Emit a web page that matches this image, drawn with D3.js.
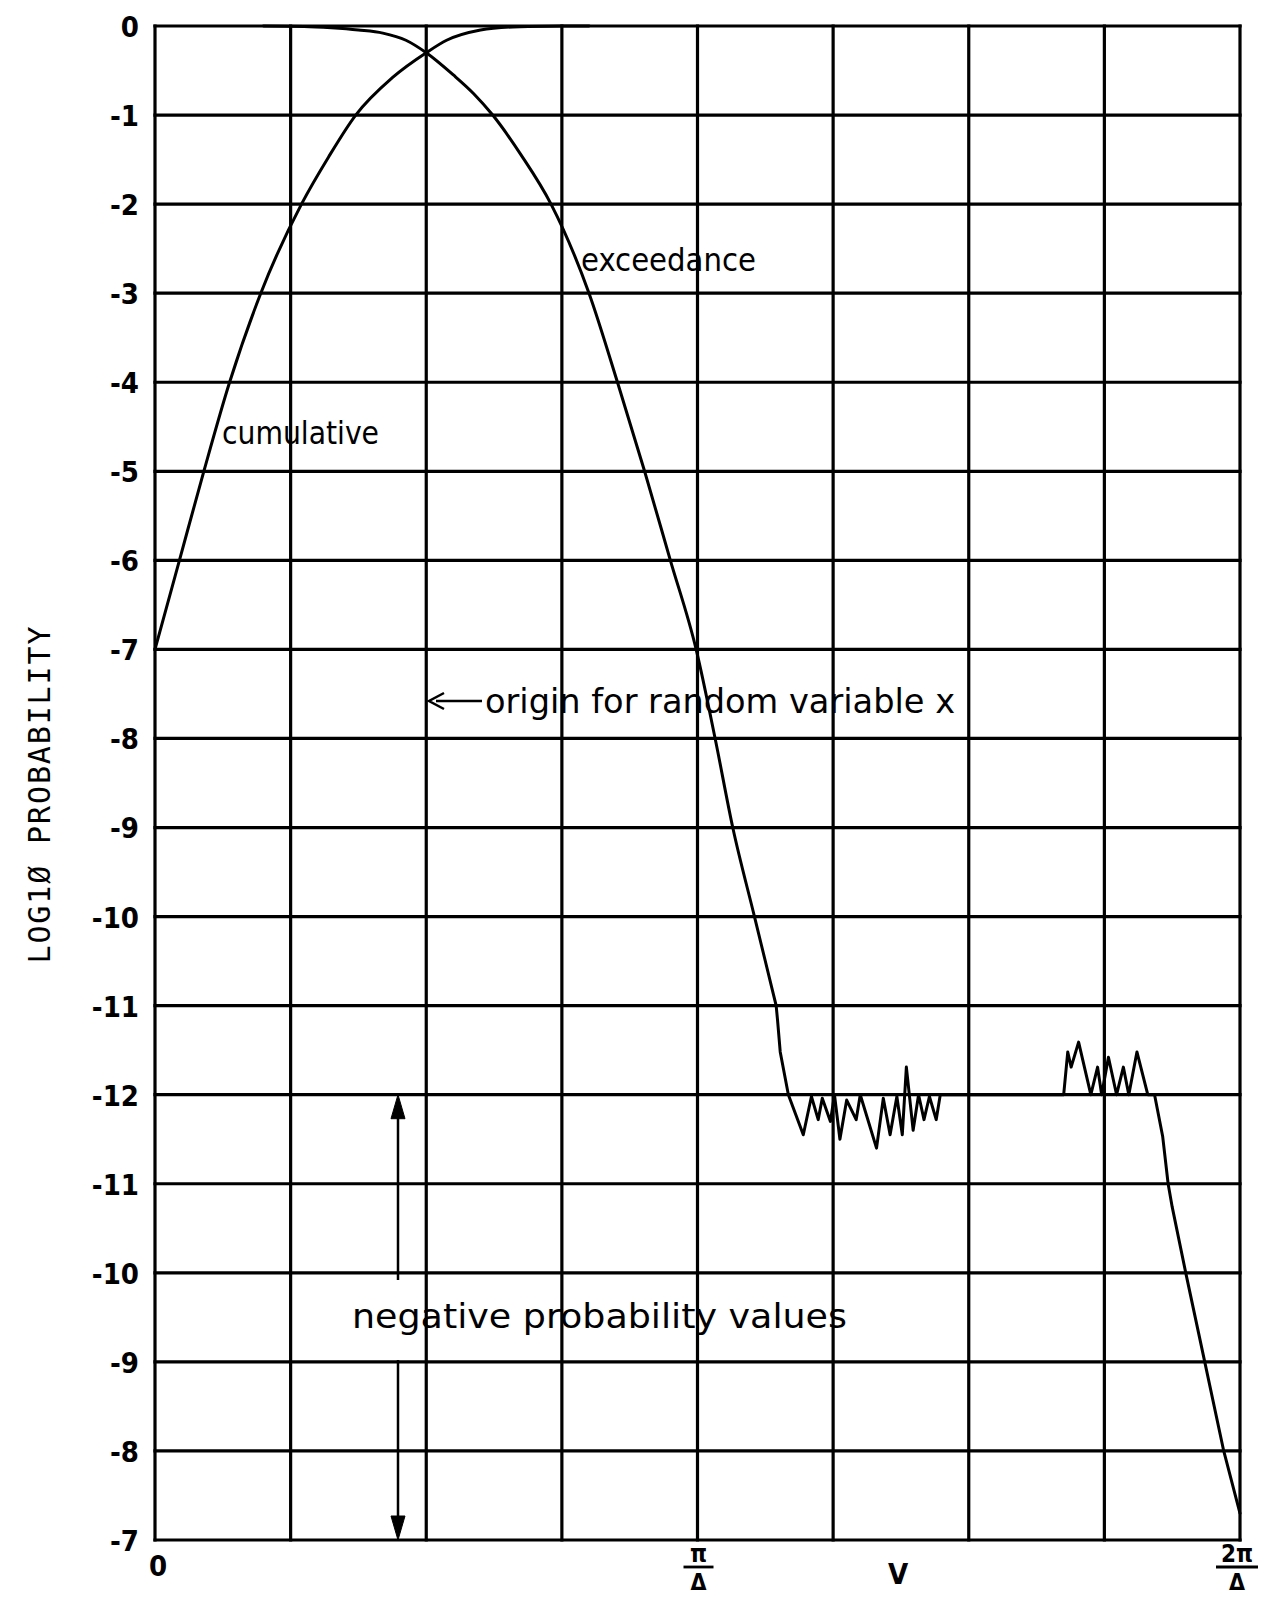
<!DOCTYPE html>
<html>
<head>
<meta charset="utf-8">
<script src="https://cdn.jsdelivr.net/npm/d3@7"></script>
<style>
  body { margin: 0; background: #fff; }
  svg { display: block; }
</style>
</head>
<body>
<svg id="chart" width="1266" height="1597"></svg>
<script>
// Horizontal unit: one grid column = π/(4Δ), so π/Δ sits at 4 and 2π/Δ at 8.
// Vertical axis is a folded log10 scale: log10 P runs 0 → -12 for positive
// probabilities, then log10|P| runs -12 → -7 back down for negative values.
const xTicks = [0, 4, 8];
const yTickLabels = ["0", "-1", "-2", "-3", "-4", "-5", "-6", "-7", "-8", "-9",
                     "-10", "-11", "-12", "-11", "-10", "-9", "-8", "-7"];

// cumulative distribution, log10 P
const cumulativeX   = [0, 0.18, 0.36, 0.55, 0.78, 1.08, 1.28, 1.48, 1.75, 2.0, 2.15, 2.4, 2.64, 2.9, 3.2];
const cumulativeLog = [-7, -6, -5, -4, -3, -2, -1.47, -1.0, -0.58, -0.3, -0.16, -0.045, -0.01, -0.002, 0];

// exceedance, smooth part, log10 P
const exceedanceX   = [0.8, 1.1, 1.3, 1.5, 1.68, 1.85, 2.0, 2.2, 2.35, 2.49, 2.7, 2.92, 3.20, 3.41, 3.61, 3.80, 3.99, 4.13, 4.26, 4.42, 4.58];
const exceedanceLog = [0, -0.005, -0.02, -0.045, -0.08, -0.16, -0.3, -0.55, -0.76, -1.0, -1.45, -2, -3, -4, -5, -6, -7, -8, -9, -10, -11];

// exceedance, round-off region: log10|P| together with the sign of P
const noiseX    = [4.58, 4.59, 4.61, 4.67, 4.78, 4.84, 4.89, 4.92, 4.98, 5.01, 5.05, 5.10, 5.17, 5.20, 5.32, 5.37, 5.42, 5.47, 5.51, 5.54, 5.59, 5.63, 5.67, 5.71, 5.76, 5.79,
                   6.70, 6.73, 6.755, 6.81, 6.90, 6.95, 6.98, 7.03, 7.09, 7.14, 7.18, 7.24, 7.32, 7.37,
                   7.43, 7.47, 7.50, 7.60, 7.74, 7.88, 8.0];
const noiseLog  = [-11, -11.16, -11.52, -12, -11.55, -11.98, -11.72, -11.96, -11.7, -12, -11.5, -11.94, -11.72, -12, -11.4, -11.96, -11.55, -11.98, -11.55, -11.69, -11.6, -12, -11.72, -11.98, -11.72, -12,
                   -12, -11.52, -11.69, -11.41, -12, -11.69, -12, -11.58, -12, -11.69, -12, -11.52, -12, -12,
                   -11.53, -11.0, -10.74, -10.0, -9.0, -8.0, -7.3];
const noiseSign = [1, 1, 1, 1, -1, -1, -1, -1, -1, 1, -1, -1, -1, 1, -1, -1, -1, -1, -1, 1, -1, 1, -1, -1, -1, 1,
                   1, 1, 1, 1, 1, 1, 1, 1, 1, 1, 1, 1, 1, 1,
                   -1, -1, -1, -1, -1, -1, -1];

const svg = d3.select("#chart");
const x = d3.scaleLinear().domain([0, 8]).range([155, 1240]);
const y = d3.scaleLinear().domain([0, 17]).range([26, 1540]);

// fold a signed log value onto the vertical position
const depth = (lg, sign) => (sign < 0 ? 24 + lg : -lg);

const ink = "#000";
const handFont = "'DejaVu Sans Condensed', 'DejaVu Sans', sans-serif";

// grid
const grid = svg.append("g").attr("stroke", ink).attr("stroke-width", 3.2).attr("stroke-linecap", "square");
grid.selectAll("line.v").data(d3.range(0, 9)).join("line")
  .attr("x1", d => x(d)).attr("x2", d => x(d))
  .attr("y1", y(0)).attr("y2", y(17));
grid.selectAll("line.h").data(d3.range(0, 18)).join("line")
  .attr("x1", x(0)).attr("x2", x(8))
  .attr("y1", d => y(d)).attr("y2", d => y(d));

// y axis labels
const yAxis = d3.axisLeft(y).tickValues(d3.range(0, 18))
  .tickFormat(i => yTickLabels[i]).tickSize(0).tickPadding(0);
const gy = svg.append("g").attr("transform", "translate(139,0)").call(yAxis);
gy.select(".domain").remove();
gy.selectAll("text").attr("font-family", handFont).attr("font-size", 29).attr("font-weight", "bold")
  .attr("fill", ink).attr("dy", "0.36em");

// x axis labels
const gx = svg.append("g").attr("font-family", handFont).attr("fill", ink).attr("text-anchor", "middle");
gx.append("text").attr("x", x(xTicks[0]) + 3).attr("y", 1576).attr("font-size", 29).attr("font-weight", "bold").text("0");
function fraction(cx, top) {
  gx.append("text").attr("x", cx).attr("y", 1562).attr("font-size", 24).attr("font-weight", "bold").text(top);
  gx.append("line").attr("x1", cx - 15 - (top.length - 1) * 6).attr("x2", cx + 15 + (top.length - 1) * 6)
    .attr("y1", 1567).attr("y2", 1567).attr("stroke", ink).attr("stroke-width", 2.8);
  gx.append("text").attr("x", cx).attr("y", 1590).attr("font-size", 23).attr("font-weight", "bold").text("Δ");
}
fraction(x(xTicks[1]) + 1, "π");
fraction(x(xTicks[2]) - 3, "2π");
gx.append("text").attr("x", 898).attr("y", 1584).attr("font-size", 29).attr("font-weight", "bold").text("V");

// y axis title
svg.append("text")
  .attr("transform", "translate(50,795) rotate(-90)")
  .attr("text-anchor", "middle")
  .attr("font-family", "'DejaVu Sans Mono', monospace")
  .attr("font-size", 30)
  .attr("fill", ink)
  .attr("textLength", 337).attr("lengthAdjust", "spacing")
  .text("LOG1Ø PROBABILITY");

// curves
const curves = svg.append("g").attr("fill", "none").attr("stroke", ink)
  .attr("stroke-width", 3).attr("stroke-linejoin", "round").attr("stroke-linecap", "round");

const smooth = d3.line().x(d => x(d[0])).y(d => y(d[1])).curve(d3.curveMonotoneX);
const jagged = d3.line().x(d => x(d[0])).y(d => y(d[1]));

curves.append("path").attr("d", smooth(cumulativeX.map((v, i) => [v, depth(cumulativeLog[i], 1)])));
curves.append("path").attr("d", smooth(exceedanceX.map((v, i) => [v, depth(exceedanceLog[i], 1)])));
curves.append("path").attr("d", jagged(noiseX.map((v, i) => [v, depth(noiseLog[i], noiseSign[i])])));

// annotations
const notes = svg.append("g").attr("font-family", handFont).attr("fill", ink).attr("font-size", 32);
notes.append("text").attr("x", 581).attr("y", 271).attr("textLength", 175).attr("lengthAdjust", "spacingAndGlyphs").text("exceedance");
notes.append("text").attr("x", 222).attr("y", 444).attr("textLength", 157).attr("lengthAdjust", "spacingAndGlyphs").text("cumulative");
notes.append("text").attr("x", 485).attr("y", 713).attr("font-size", 34).attr("textLength", 470).attr("lengthAdjust", "spacingAndGlyphs").text("origin for random variable x");
notes.append("text").attr("x", 352).attr("y", 1328).attr("font-size", 34).attr("textLength", 495).attr("lengthAdjust", "spacingAndGlyphs").text("negative probability values");

// arrows
const arrows = svg.append("g").attr("stroke", ink).attr("stroke-width", 2.5).attr("fill", ink);
// pointer to the origin line
arrows.append("line").attr("x1", 436).attr("x2", 482).attr("y1", 701).attr("y2", 701);
arrows.append("path").attr("stroke-width", 2.5).attr("fill", "none")
  .attr("d", "M444,693 L429,701 L444,709");
// span of the negative-probability region
const ax = 398;
arrows.append("line").attr("x1", ax).attr("x2", ax).attr("y1", 1280).attr("y2", y(12) + 20);
arrows.append("path").attr("stroke-width", 1).attr("d", `M${ax},${y(12)} L${ax - 7},${y(12) + 24} L${ax + 7},${y(12) + 24} Z`);
arrows.append("line").attr("x1", ax).attr("x2", ax).attr("y1", 1360).attr("y2", y(17) - 20);
arrows.append("path").attr("stroke-width", 1).attr("d", `M${ax},${y(17)} L${ax - 7},${y(17) - 24} L${ax + 7},${y(17) - 24} Z`);
</script>
</body>
</html>
